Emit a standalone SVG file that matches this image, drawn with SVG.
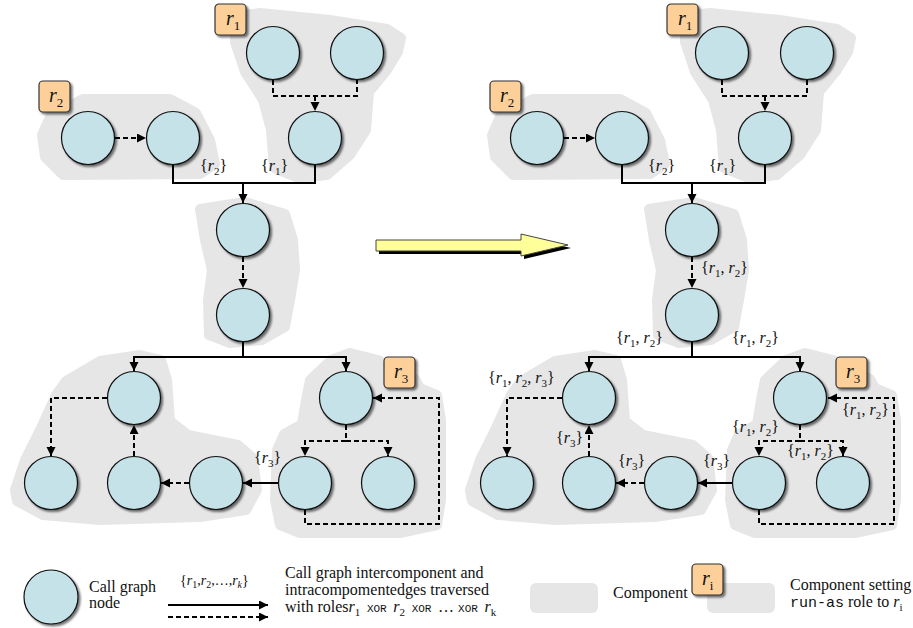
<svg xmlns="http://www.w3.org/2000/svg" width="913" height="628" viewBox="0 0 913 628">
<defs>
<filter id="sh" x="-20%" y="-20%" width="150%" height="150%">
<feDropShadow dx="2" dy="2" stdDeviation="0.8" flood-color="#000" flood-opacity="0.55"/>
</filter>
<marker id="ah" markerUnits="userSpaceOnUse" markerWidth="10" markerHeight="10" refX="9" refY="4.5" orient="auto">
<path d="M0,0 L9,4.5 L0,9 z" fill="#000"/>
</marker>
<style>
.blob{fill:#e6e6e6;stroke:#e6e6e6;stroke-width:10;stroke-linejoin:round}
.node{fill:#c4e2e8;stroke:#111;stroke-width:1.2;filter:url(#sh)}
.role{fill:#fdd09a;stroke:#333;stroke-width:1.2;filter:url(#sh)}
.s{fill:none;stroke:#000;stroke-width:2}
.d{fill:none;stroke:#000;stroke-width:2;stroke-dasharray:5,3}
.a{marker-end:url(#ah)}
.lbl{font-family:"Liberation Serif","Times New Roman",serif;font-size:16px;fill:#111}
.rl{font-family:"Liberation Serif","Times New Roman",serif;font-size:20px;fill:#111}
.i{font-style:italic}
.sb{font-size:11px;font-style:normal}
.sb2{font-size:13px;font-style:normal}
.mono{font-family:"Liberation Mono",monospace;font-size:11px}
.mono2{font-family:"Liberation Mono",monospace;font-size:15px}
</style>
</defs>
<rect width="913" height="628" fill="#fff"/>

<g id="blobs">
<g id="blobs-left">
<polygon class="blob" points="235,16 260,13 330,20 387,29 401,38 398,52 387,70 369,92 366,130 350,155 327,175 299,178 274,168 271,130 263,100 245,72 235,42"/>
<polygon class="blob" points="83,99 170,99 196,113 210,140 215,164 200,174 63,175 45,157 42,135 50,117"/>
<polygon class="blob" points="200,209 245,202 285,214 293,240 295,270 290,300 285,327 262,340 230,343 209,335 208,300 212,270 205,240"/>
<polygon class="blob" points="56,395 66,381 100,361 140,355 161,360 167,380 170,421 188,435 238,445 253,458 257,490 246,510 200,517 100,520 43,515 17,501 15,490 25,460 40,430"/>
<polygon class="blob" points="310,380 331,360 350,353 378,360 415,379 420,388 437,395 441,420 441,500 437,525 400,533 300,533 280,525 275,500 277,450 284,434 302,424 306,400"/>
</g>
<g id="blobs-right">
<polygon class="blob" transform="translate(450,0)" points="235,16 260,13 330,20 387,29 401,38 398,52 387,70 369,92 366,130 350,155 327,175 299,178 274,168 271,130 263,100 245,72 235,42"/>
<polygon class="blob" transform="translate(450,0)" points="83,99 170,99 196,113 210,140 215,164 200,174 63,175 45,157 42,135 50,117"/>
<polygon class="blob" transform="translate(449,0)" points="200,209 245,202 285,214 293,240 295,270 290,300 285,327 262,340 230,343 209,335 208,300 212,270 205,240"/>
<polygon class="blob" transform="translate(455,0)" points="56,395 66,381 100,361 140,355 161,360 167,380 170,421 188,435 238,445 253,458 257,490 246,510 200,517 100,520 43,515 17,501 15,490 25,460 40,430"/>
<polygon class="blob" transform="translate(455,0)" points="310,380 331,360 350,353 378,360 415,379 420,388 437,395 441,420 441,500 437,525 400,533 300,533 280,525 275,500 277,450 284,434 302,424 306,400"/>
</g>
</g>

<g id="transform-arrow">
<polygon points="379,243 524,243 524,237 571,248 524,259 524,254 379,254" fill="#000"/>
<polygon points="376,240 521,240 521,234 568,245 521,256 521,251 376,251" fill="#ffff99" stroke="#444" stroke-width="1"/>
</g>

<g id="connectors">
<path class="d" d="M273,80 V96 H357 V80"/>
<path class="d a" d="M315,96 V111"/>
<path class="d a" d="M115,138 H146"/>
<path class="s" d="M173,165 V183 H315 V165"/>
<path class="s a" d="M243,183 V203"/>
<path class="d a" d="M243,257 V288"/>
<path class="s" d="M243,342 V357"/>
<path class="s a" d="M243,357 H134 V371"/>
<path class="s a" d="M243,357 H346 V371"/>
<path class="d a" d="M107,398 H51 V456"/>
<path class="d a" d="M134,456 V425"/>
<path class="d a" d="M189,483 H161"/>
<path class="s a" d="M278,483 H243"/>
<path class="d" d="M346,425 V441"/>
<path class="d a" d="M346,441 H305 V456"/>
<path class="d a" d="M346,441 H388 V456"/>
<path class="d a" d="M305,510 V524 H439 V398 H373"/>
<path class="d" d="M722,80 V96 H807 V80"/>
<path class="d a" d="M765,96 V111"/>
<path class="d a" d="M564,138 H595"/>
<path class="s" d="M622,165 V183 H765 V165"/>
<path class="s a" d="M692,183 V203"/>
<path class="d a" d="M692,257 V288"/>
<path class="s" d="M692,342 V357"/>
<path class="s a" d="M692,357 H589 V371"/>
<path class="s a" d="M692,357 H800 V371"/>
<path class="d a" d="M562,398 H507 V456"/>
<path class="d a" d="M589,456 V425"/>
<path class="d a" d="M644,483 H616"/>
<path class="s a" d="M733,483 H698"/>
<path class="d" d="M800,425 V441"/>
<path class="d a" d="M800,441 H759 V456"/>
<path class="d a" d="M800,441 H843 V456"/>
<path class="d a" d="M759,510 V524 H894 V398 H828"/>
<path class="s a" d="M168,605 H268"/>
<path class="d a" d="M168,617 H268"/>
</g>

<g id="nodes-left">
<g id="nL1a"><circle class="node" cx="273" cy="53" r="26.5"/></g>
<g id="nL1b"><circle class="node" cx="357" cy="53" r="26.5"/></g>
<g id="nL1c"><circle class="node" cx="315" cy="138" r="26.5"/></g>
<g id="nL2a"><circle class="node" cx="88" cy="138" r="26.5"/></g>
<g id="nL2b"><circle class="node" cx="173" cy="138" r="26.5"/></g>
<g id="nLM1"><circle class="node" cx="243" cy="230" r="26.5"/></g>
<g id="nLM2"><circle class="node" cx="243" cy="315" r="26.5"/></g>
<g id="nLB1"><circle class="node" cx="134" cy="398" r="26.5"/></g>
<g id="nLB2"><circle class="node" cx="51" cy="483" r="26.5"/></g>
<g id="nLB3"><circle class="node" cx="134" cy="483" r="26.5"/></g>
<g id="nLB4"><circle class="node" cx="216" cy="483" r="26.5"/></g>
<g id="nL3a"><circle class="node" cx="346" cy="398" r="26.5"/></g>
<g id="nL3b"><circle class="node" cx="305" cy="483" r="26.5"/></g>
<g id="nL3c"><circle class="node" cx="388" cy="483" r="26.5"/></g>
</g>
<g id="nodes-right">
<g id="nR1a"><circle class="node" cx="722" cy="53" r="26.5"/></g>
<g id="nR1b"><circle class="node" cx="807" cy="53" r="26.5"/></g>
<g id="nR1c"><circle class="node" cx="765" cy="138" r="26.5"/></g>
<g id="nR2a"><circle class="node" cx="537" cy="138" r="26.5"/></g>
<g id="nR2b"><circle class="node" cx="622" cy="138" r="26.5"/></g>
<g id="nRM1"><circle class="node" cx="692" cy="230" r="26.5"/></g>
<g id="nRM2"><circle class="node" cx="692" cy="315" r="26.5"/></g>
<g id="nRB1"><circle class="node" cx="589" cy="398" r="26.5"/></g>
<g id="nRB2"><circle class="node" cx="507" cy="483" r="26.5"/></g>
<g id="nRB3"><circle class="node" cx="589" cy="483" r="26.5"/></g>
<g id="nRB4"><circle class="node" cx="671" cy="483" r="26.5"/></g>
<g id="nR3a"><circle class="node" cx="800" cy="398" r="26.5"/></g>
<g id="nR3b"><circle class="node" cx="759" cy="483" r="26.5"/></g>
<g id="nR3c"><circle class="node" cx="843" cy="483" r="26.5"/></g>
</g>

<g id="roles" font-family="Liberation Serif, serif">
<g id="roleL1"><rect class="role" x="215" y="4" width="31" height="31" rx="4"/><text class="rl" x="226" y="25"><tspan class="i">r</tspan><tspan class="sb2" dy="5">1</tspan></text></g>
<g id="roleL2"><rect class="role" x="39" y="81" width="31" height="31" rx="4"/><text class="rl" x="49" y="102"><tspan class="i">r</tspan><tspan class="sb2" dy="5">2</tspan></text></g>
<g id="roleL3"><rect class="role" x="384" y="357" width="31" height="31" rx="4"/><text class="rl" x="394" y="378"><tspan class="i">r</tspan><tspan class="sb2" dy="5">3</tspan></text></g>
<g id="roleR1"><rect class="role" x="667" y="4" width="31" height="31" rx="4"/><text class="rl" x="678" y="25"><tspan class="i">r</tspan><tspan class="sb2" dy="5">1</tspan></text></g>
<g id="roleR2"><rect class="role" x="490" y="81" width="31" height="31" rx="4"/><text class="rl" x="500" y="102"><tspan class="i">r</tspan><tspan class="sb2" dy="5">2</tspan></text></g>
<g id="roleR3"><rect class="role" x="836" y="357" width="31" height="31" rx="4"/><text class="rl" x="846" y="378"><tspan class="i">r</tspan><tspan class="sb2" dy="5">3</tspan></text></g>
</g>

<g id="labels" class="lbl" font-family="Liberation Serif, serif">
<text x="200" y="171">{<tspan class="i">r</tspan><tspan class="sb" dy="4">2</tspan><tspan dy="-4">}</tspan></text>
<text x="261" y="171">{<tspan class="i">r</tspan><tspan class="sb" dy="4">1</tspan><tspan dy="-4">}</tspan></text>
<text x="254" y="463">{<tspan class="i">r</tspan><tspan class="sb" dy="4">3</tspan><tspan dy="-4">}</tspan></text>
<text x="648" y="171">{<tspan class="i">r</tspan><tspan class="sb" dy="4">2</tspan><tspan dy="-4">}</tspan></text>
<text x="709" y="171">{<tspan class="i">r</tspan><tspan class="sb" dy="4">1</tspan><tspan dy="-4">}</tspan></text>
<text x="701" y="273">{<tspan class="i">r</tspan><tspan class="sb" dy="4">1</tspan><tspan dy="-4">, </tspan><tspan class="i">r</tspan><tspan class="sb" dy="4">2</tspan><tspan dy="-4">}</tspan></text>
<text x="616" y="343">{<tspan class="i">r</tspan><tspan class="sb" dy="4">1</tspan><tspan dy="-4">, </tspan><tspan class="i">r</tspan><tspan class="sb" dy="4">2</tspan><tspan dy="-4">}</tspan></text>
<text x="732" y="343">{<tspan class="i">r</tspan><tspan class="sb" dy="4">1</tspan><tspan dy="-4">, </tspan><tspan class="i">r</tspan><tspan class="sb" dy="4">2</tspan><tspan dy="-4">}</tspan></text>
<text x="488" y="383">{<tspan class="i">r</tspan><tspan class="sb" dy="4">1</tspan><tspan dy="-4">, </tspan><tspan class="i">r</tspan><tspan class="sb" dy="4">2</tspan><tspan dy="-4">, </tspan><tspan class="i">r</tspan><tspan class="sb" dy="4">3</tspan><tspan dy="-4">}</tspan></text>
<text x="556" y="443">{<tspan class="i">r</tspan><tspan class="sb" dy="4">3</tspan><tspan dy="-4">}</tspan></text>
<text x="618" y="466">{<tspan class="i">r</tspan><tspan class="sb" dy="4">3</tspan><tspan dy="-4">}</tspan></text>
<text x="703" y="466">{<tspan class="i">r</tspan><tspan class="sb" dy="4">3</tspan><tspan dy="-4">}</tspan></text>
<text x="732" y="432">{<tspan class="i">r</tspan><tspan class="sb" dy="4">1</tspan><tspan dy="-4">, </tspan><tspan class="i">r</tspan><tspan class="sb" dy="4">2</tspan><tspan dy="-4">}</tspan></text>
<text x="787" y="456">{<tspan class="i">r</tspan><tspan class="sb" dy="4">1</tspan><tspan dy="-4">, </tspan><tspan class="i">r</tspan><tspan class="sb" dy="4">2</tspan><tspan dy="-4">}</tspan></text>
<text x="842" y="415">{<tspan class="i">r</tspan><tspan class="sb" dy="4">1</tspan><tspan dy="-4">, </tspan><tspan class="i">r</tspan><tspan class="sb" dy="4">2</tspan><tspan dy="-4">}</tspan></text>
</g>

<g id="legend" class="lbl" font-family="Liberation Serif, serif">
<g id="legend-node"><circle class="node" cx="51" cy="597" r="27"/></g>
<text x="89" y="592">Call graph</text>
<text x="89" y="608">node</text>
<text x="180" y="585" font-size="14">{<tspan class="i">r</tspan><tspan font-size="10" dy="3">1</tspan><tspan dy="-3">,</tspan><tspan class="i">r</tspan><tspan font-size="10" dy="3">2</tspan><tspan dy="-3">,…,</tspan><tspan class="i">r</tspan><tspan font-size="10" font-style="italic" dy="3">k</tspan><tspan dy="-3">}</tspan></text>
<text x="285" y="578">Call graph intercomponent and</text>
<text x="285" y="595">intracompomentedges traversed</text>
<text x="285" y="612">with roles<tspan class="i">r</tspan><tspan class="sb" dy="4">1</tspan><tspan class="mono" dy="-4"> XOR </tspan><tspan class="i">r</tspan><tspan class="sb" dy="4">2</tspan><tspan class="mono" dy="-4"> XOR </tspan><tspan>… </tspan><tspan class="mono">XOR </tspan><tspan class="i">r</tspan><tspan class="sb" font-style="italic" dy="4">k</tspan></text>
<g id="legend-component"><rect x="530" y="583" width="68" height="30" rx="6" fill="#e6e6e6"/></g>
<text x="613" y="598">Component</text>
<g id="legend-component-role"><rect x="707" y="583" width="68" height="30" rx="6" fill="#e6e6e6"/></g>
<g id="legend-role"><rect class="role" x="692" y="564" width="31" height="31" rx="4"/><text class="rl" x="702" y="585"><tspan class="i">r</tspan><tspan class="sb2" font-style="italic" dy="5">i</tspan></text></g>
<text x="790" y="590">Component setting</text>
<text x="790" y="607"><tspan class="mono2">run-as</tspan> role to <tspan class="i">r</tspan><tspan class="sb" font-style="italic" dy="4">i</tspan></text>
</g>
</svg>
